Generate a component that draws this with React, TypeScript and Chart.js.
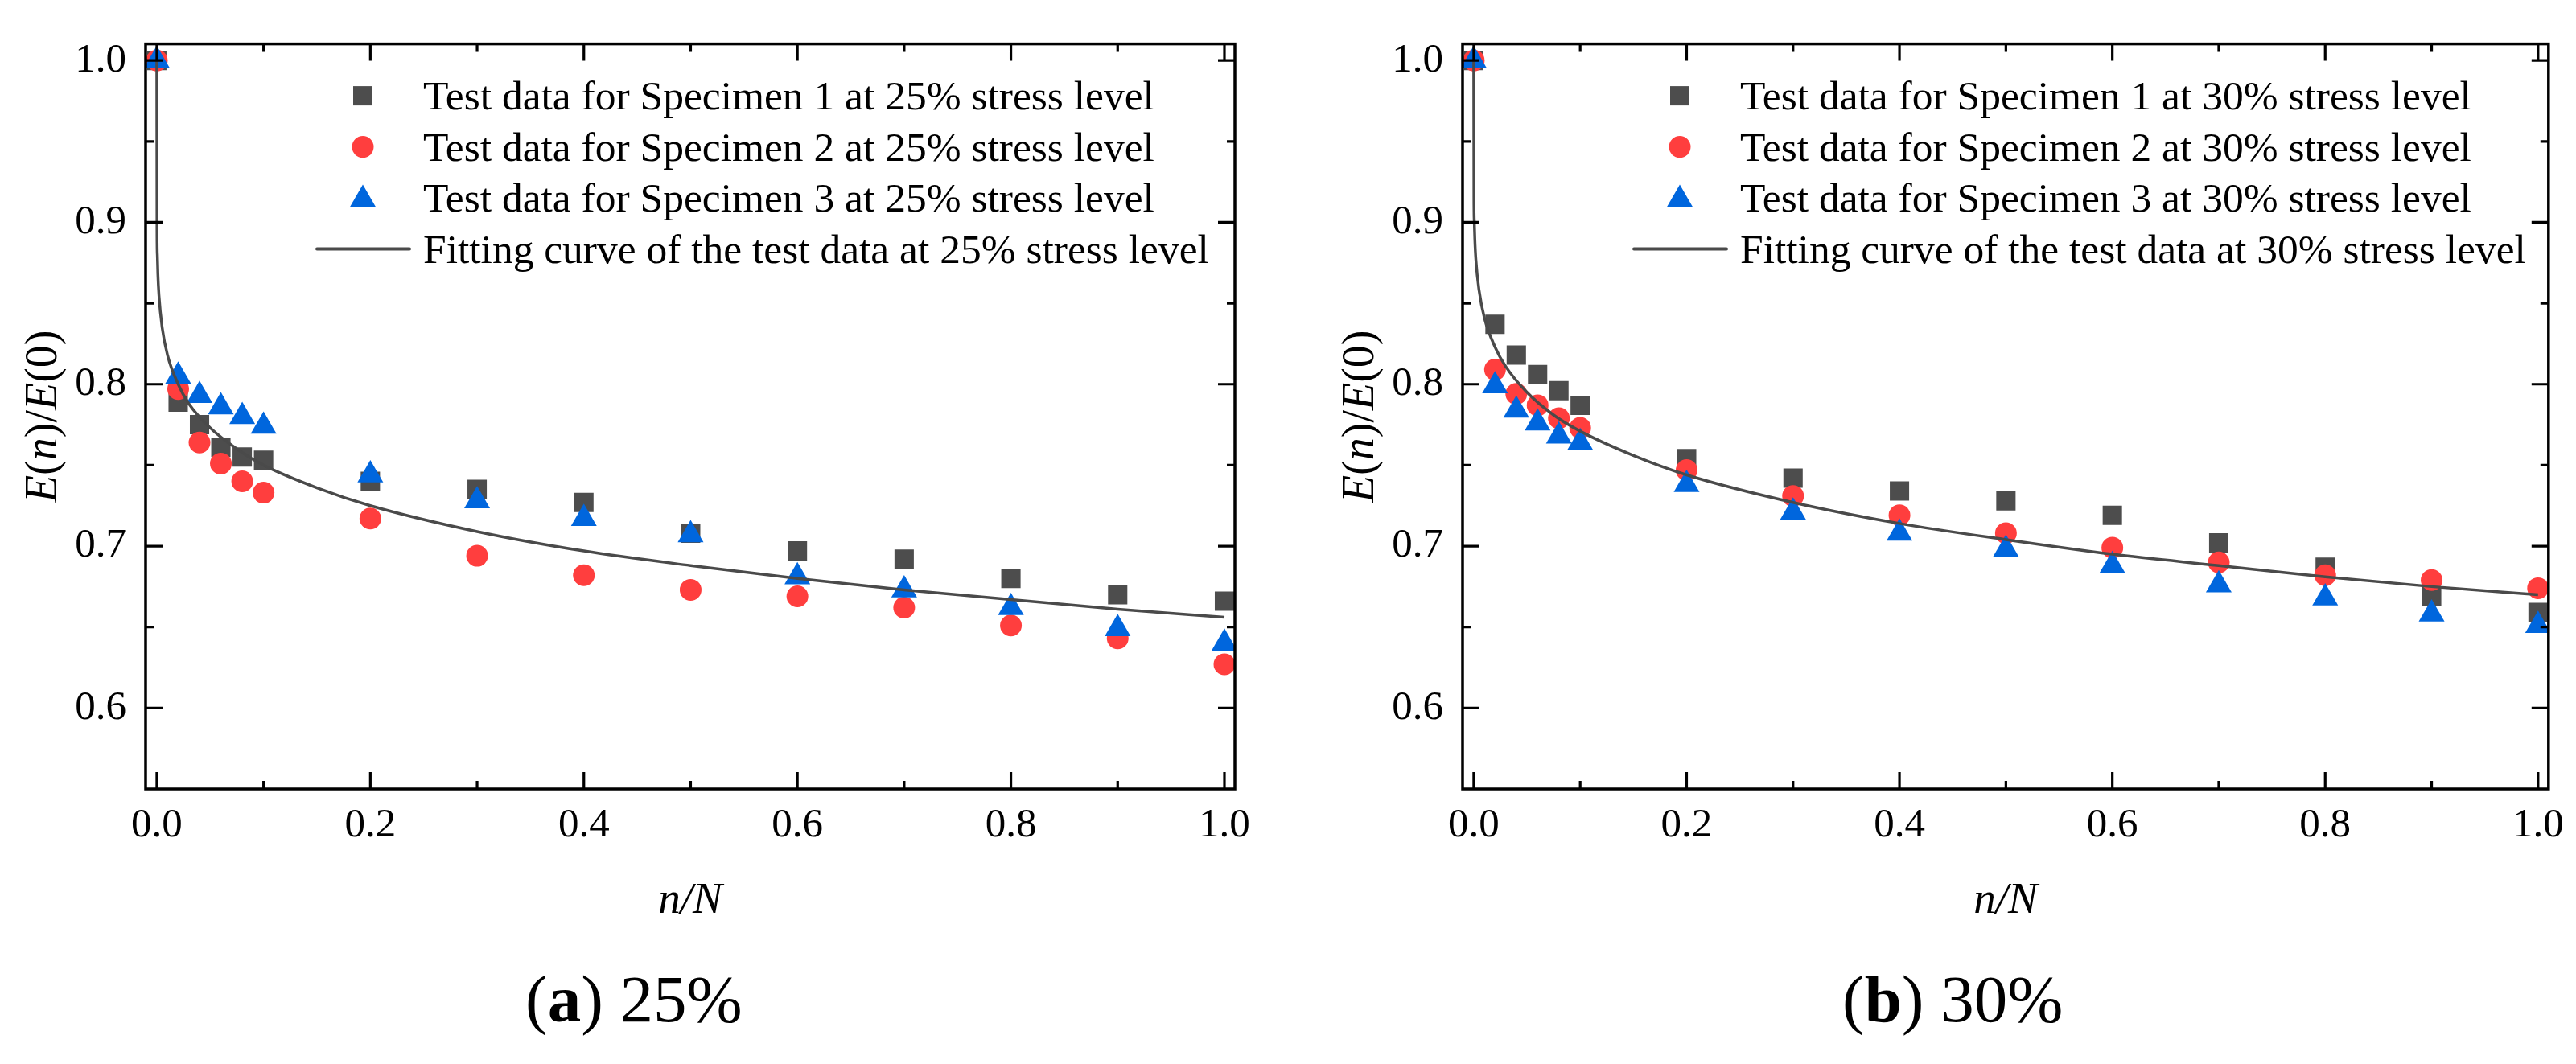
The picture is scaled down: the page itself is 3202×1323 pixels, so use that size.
import React, { useRef, useEffect } from "react";
import Chart from "chart.js/auto";

// axes
const X_MIN = -0.0105;
const X_MAX = 1.0098;
const Y_MIN = 0.55;
const Y_MAX = 1.0102;
const X_TICKS = [0, 0.2, 0.4, 0.6, 0.8, 1.0];
const X_MINOR = [0.1, 0.3, 0.5, 0.7, 0.9];
const Y_TICKS = [0.6, 0.7, 0.8, 0.9, 1.0];
const Y_MINOR = [0.65, 0.75, 0.85, 0.95];

// test data (n/N)
const TEST_X = [0, 0.02, 0.04, 0.06, 0.08, 0.1, 0.2, 0.3, 0.4, 0.5, 0.6, 0.7, 0.8, 0.9, 1.0];

const S1_25 = [1.0, 0.789, 0.775, 0.761, 0.755, 0.753, 0.74, 0.735, 0.727, 0.708, 0.697, 0.692, 0.68, 0.67, 0.666];
const S2_25 = [1.0, 0.797, 0.764, 0.751, 0.74, 0.733, 0.717, 0.694, 0.682, 0.673, 0.669, 0.662, 0.651, 0.643, 0.627];
const S3_25 = [1.0, 0.805, 0.793, 0.786, 0.78, 0.774, 0.744, 0.728, 0.717, 0.707, 0.681, 0.673, 0.662, 0.649, 0.64];

const S1_30 = [1.0, 0.837, 0.818, 0.806, 0.796, 0.787, 0.754, 0.742, 0.734, 0.728, 0.719, 0.702, 0.687, 0.669, 0.659];
const S2_30 = [1.0, 0.809, 0.794, 0.787, 0.779, 0.773, 0.747, 0.731, 0.719, 0.708, 0.699, 0.69, 0.682, 0.679, 0.674];
const S3_30 = [1.0, 0.799, 0.784, 0.776, 0.768, 0.764, 0.738, 0.721, 0.708, 0.698, 0.688, 0.676, 0.668, 0.658, 0.651];

// fitting curves
const FIT_X = [0, 0.0002, 0.0005, 0.001, 0.002, 0.005, 0.01, 0.02, 0.03, 0.05, 0.075, 0.1, 0.15, 0.2, 0.3, 0.4, 0.5, 0.6, 0.7, 0.8, 0.9, 1.0];
const FIT_25 = [1.0, 0.894, 0.88, 0.868, 0.855, 0.835, 0.818, 0.8, 0.788, 0.773, 0.76, 0.75, 0.736, 0.725, 0.709, 0.697, 0.688, 0.68, 0.673, 0.667, 0.661, 0.656];
const FIT_30 = [1.0, 0.915, 0.901, 0.89, 0.877, 0.858, 0.841, 0.823, 0.811, 0.795, 0.781, 0.771, 0.756, 0.744, 0.727, 0.714, 0.704, 0.695, 0.688, 0.681, 0.675, 0.67];

const FONT = "'Liberation Serif', 'Times New Roman', serif";
const GREY = "#4d4d4d";
const RED = "#ff3e3e";
const BLUE = "#0066dd";
const CURVE = "#4a4a4a";

const H = 1323;
const PLOT_RIGHT = 1535;
const PLOT_LEFT = 181;
const PLOT_BOTTOM = 981;

Chart.defaults.font.family = FONT;

type Run = { t: string; f: string };

const drawRuns = (ctx: CanvasRenderingContext2D, runs: Run[], x: number, y: number, center: boolean) => {
  let total = 0;
  for (const r of runs) {
    ctx.font = r.f;
    total += ctx.measureText(r.t).width;
  }
  let cx = center ? x - total / 2 : x;
  for (const r of runs) {
    ctx.font = r.f;
    ctx.fillText(r.t, cx, y);
    cx += ctx.measureText(r.t).width;
  }
};

type PanelProps = {
  letter: string;
  level: string;
  s1: number[];
  s2: number[];
  s3: number[];
  fit: number[];
  width: number;
  left: number;
};

const Panel = ({ letter, level, s1, s2, s3, fit, width, left }: PanelProps) => {
  const chartRef = useRef<HTMLCanvasElement>(null);

  useEffect(() => {
    if (!chartRef.current) return;
    const pts = (xs: number[], ys: number[]) => xs.map((x, i) => ({ x, y: ys[i] }));
    const labels = [
      `Test data for Specimen 1 at ${level} stress level`,
      `Test data for Specimen 2 at ${level} stress level`,
      `Test data for Specimen 3 at ${level} stress level`,
      `Fitting curve of the test data at ${level} stress level`,
    ];

    const decor = {
      id: "decor",
      afterDraw(chart: any) {
        const { ctx, chartArea: a, scales } = chart;
        const xs = scales.x;
        const ys = scales.y;
        ctx.save();

        // frame + inward ticks on all four sides
        ctx.strokeStyle = "#000";
        ctx.lineWidth = 3.5;
        ctx.strokeRect(a.left, a.top, a.right - a.left, a.bottom - a.top);
        ctx.lineWidth = 3.2;
        ctx.beginPath();
        const xt = (v: number, len: number) => {
          const px = xs.getPixelForValue(v);
          ctx.moveTo(px, a.bottom);
          ctx.lineTo(px, a.bottom - len);
          ctx.moveTo(px, a.top);
          ctx.lineTo(px, a.top + len);
        };
        const yt = (v: number, len: number) => {
          const py = ys.getPixelForValue(v);
          ctx.moveTo(a.left, py);
          ctx.lineTo(a.left + len, py);
          ctx.moveTo(a.right, py);
          ctx.lineTo(a.right - len, py);
        };
        X_TICKS.forEach((v) => xt(v, 21));
        X_MINOR.forEach((v) => xt(v, 10));
        Y_TICKS.forEach((v) => yt(v, 21));
        Y_MINOR.forEach((v) => yt(v, 10));
        ctx.stroke();

        ctx.fillStyle = "#000";
        ctx.textBaseline = "alphabetic";
        ctx.textAlign = "left";

        // x title
        drawRuns(ctx, [{ t: "n/N", f: `italic 55px ${FONT}` }], (a.left + a.right) / 2, a.bottom + 154, true);

        // y title
        ctx.save();
        ctx.translate(70, (a.top + a.bottom) / 2);
        ctx.rotate(-Math.PI / 2);
        const it = `italic 56px ${FONT}`;
        const rg = `56px ${FONT}`;
        drawRuns(
          ctx,
          [
            { t: "E", f: it },
            { t: "(", f: rg },
            { t: "n", f: it },
            { t: ")/", f: rg },
            { t: "E", f: it },
            { t: "(0)", f: rg },
          ],
          0,
          0,
          true
        );
        ctx.restore();

        // legend
        const rowY = (i: number) => a.top + 64.5 + i * 63.5;
        const mx = a.left + 270;
        ctx.fillStyle = GREY;
        ctx.fillRect(mx - 12, rowY(0) - 12, 24, 24);
        ctx.fillStyle = RED;
        ctx.beginPath();
        ctx.arc(mx, rowY(1), 13.5, 0, Math.PI * 2);
        ctx.fill();
        ctx.fillStyle = BLUE;
        const r = 18.5;
        const ty = rowY(2) + 2;
        ctx.beginPath();
        ctx.moveTo(mx, ty - r);
        ctx.lineTo(mx + r * 0.866, ty + r / 2);
        ctx.lineTo(mx - r * 0.866, ty + r / 2);
        ctx.closePath();
        ctx.fill();
        ctx.strokeStyle = CURVE;
        ctx.lineWidth = 4;
        ctx.lineCap = "round";
        ctx.beginPath();
        ctx.moveTo(a.left + 213, rowY(3));
        ctx.lineTo(a.left + 328, rowY(3));
        ctx.stroke();

        ctx.fillStyle = "#000";
        labels.forEach((txt, i) => {
          drawRuns(ctx, [{ t: txt, f: `51.5px ${FONT}` }], a.left + 345, rowY(i) + 17, false);
        });

        // caption
        drawRuns(
          ctx,
          [
            { t: "(", f: `83px ${FONT}` },
            { t: letter, f: `bold 83px ${FONT}` },
            { t: `) ${level}`, f: `83px ${FONT}` },
          ],
          653,
          1270,
          false
        );

        ctx.restore();
      },
    };

    const tickFont = { family: FONT, size: 51 };

    const chart = new Chart(chartRef.current, {
      type: "scatter",
      data: {
        datasets: [
          {
            label: labels[3],
            data: pts(FIT_X, fit),
            showLine: true,
            fill: false,
            pointRadius: 0,
            borderColor: CURVE,
            borderWidth: 3.5,
            cubicInterpolationMode: "monotone",
            order: 0,
          },
          {
            label: labels[2],
            data: pts(TEST_X, s3),
            pointStyle: "triangle",
            pointRadius: 18.5,
            pointBackgroundColor: BLUE,
            pointBorderColor: BLUE,
            pointBorderWidth: 0,
            order: 1,
          },
          {
            label: labels[1],
            data: pts(TEST_X, s2),
            pointStyle: "circle",
            pointRadius: 13.5,
            pointBackgroundColor: RED,
            pointBorderColor: RED,
            pointBorderWidth: 0,
            order: 2,
          },
          {
            label: labels[0],
            data: pts(TEST_X, s1),
            pointStyle: "rect",
            pointRadius: 17,
            pointBackgroundColor: GREY,
            pointBorderColor: GREY,
            pointBorderWidth: 0,
            order: 3,
          },
        ],
      },
      options: {
        animation: false,
        responsive: false,
        maintainAspectRatio: false,
        devicePixelRatio: 1,
        layout: { padding: { left: 0, top: 33, right: width - PLOT_RIGHT, bottom: 0 } },
        plugins: { legend: { display: false }, tooltip: { enabled: false } },
        elements: { line: { tension: 0 } },
        scales: {
          x: {
            type: "linear",
            min: X_MIN,
            max: X_MAX,
            grid: { display: false, drawTicks: false },
            border: { display: false },
            afterBuildTicks: (s: any) => {
              s.ticks = X_TICKS.map((v) => ({ value: v }));
            },
            afterFit: (s: any) => {
              s.height = H - PLOT_BOTTOM;
            },
            ticks: {
              padding: 15,
              color: "#000",
              font: tickFont,
              maxRotation: 0,
              autoSkip: false,
              callback: (v: any) => Number(v).toFixed(1),
            },
          },
          y: {
            type: "linear",
            min: Y_MIN,
            max: Y_MAX,
            grid: { display: false, drawTicks: false },
            border: { display: false },
            afterBuildTicks: (s: any) => {
              s.ticks = Y_TICKS.map((v) => ({ value: v }));
            },
            afterFit: (s: any) => {
              s.width = PLOT_LEFT;
            },
            ticks: {
              padding: 24,
              color: "#000",
              font: tickFont,
              autoSkip: false,
              callback: (v: any) => Number(v).toFixed(1),
            },
          },
        },
      },
      plugins: [decor],
    });

    return () => {
      chart.destroy();
    };
  }, []);

  return (
    <canvas
      ref={chartRef}
      width={width}
      height={H}
      style={{ position: "absolute", left, top: 0, width, height: H, display: "block" }}
    />
  );
};

const App = () => {
  return (
    <div style={{ position: "absolute", left: 0, top: 0, width: 3202, height: H, background: "#fff", overflow: "hidden" }}>
      <Panel letter="a" level="25%" s1={S1_25} s2={S2_25} s3={S3_25} fit={FIT_25} width={1637} left={0} />
      <Panel letter="b" level="30%" s1={S1_30} s2={S2_30} s3={S3_30} fit={FIT_30} width={1565} left={1637} />
    </div>
  );
};

export default App;
